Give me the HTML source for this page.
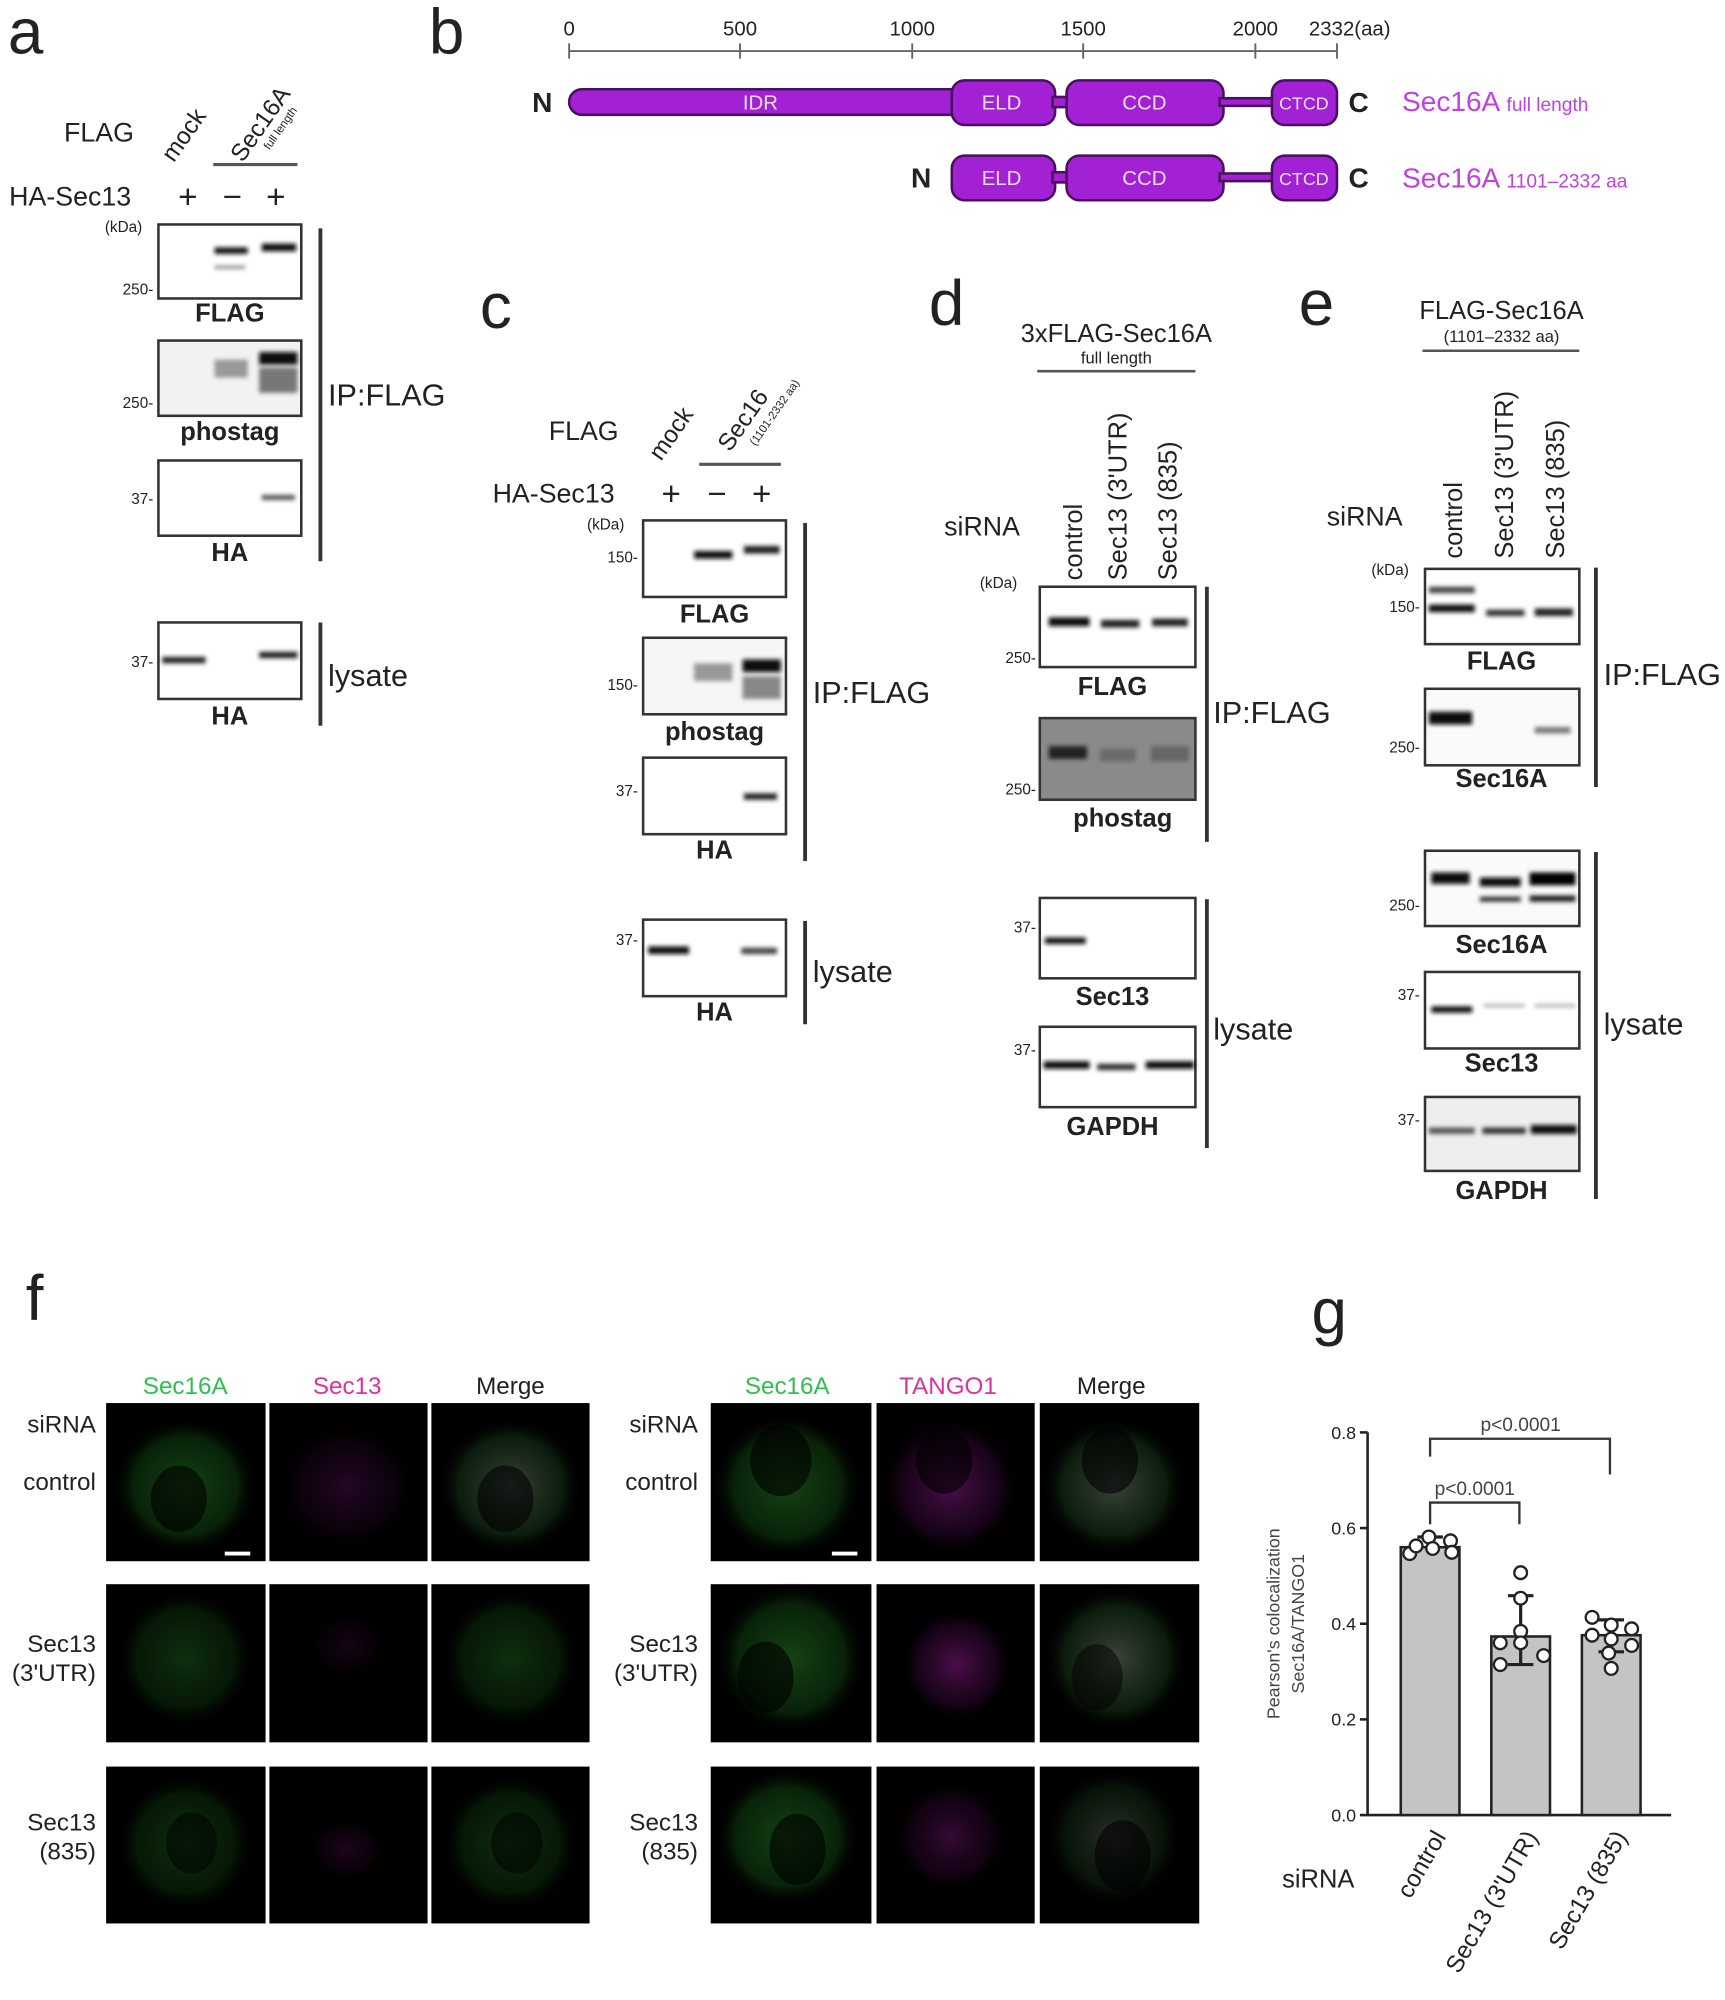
<!DOCTYPE html>
<html><head><meta charset="utf-8"><style>
html,body{margin:0;padding:0;background:#fff}
svg{display:block}
text{font-family:"Liberation Sans",Arial,sans-serif;fill:#222}
</style></head><body>
<svg width="1725" height="2000" viewBox="0 0 1352 1568" xmlns="http://www.w3.org/2000/svg">
<defs>
<filter id="bl" x="-20%" y="-200%" width="140%" height="500%"><feGaussianBlur stdDeviation="1.6"/></filter>
<radialGradient id="gc" cx="50%" cy="50%" r="50%"><stop offset="0" stop-color="#2a8a2a" stop-opacity=".9"/><stop offset=".7" stop-color="#1d6a1d" stop-opacity=".6"/><stop offset="1" stop-color="#000" stop-opacity="0"/></radialGradient>
<radialGradient id="mc" cx="50%" cy="50%" r="50%"><stop offset="0" stop-color="#9a1f9a" stop-opacity=".9"/><stop offset=".7" stop-color="#5a105a" stop-opacity=".5"/><stop offset="1" stop-color="#000" stop-opacity="0"/></radialGradient>
<radialGradient id="wc" cx="50%" cy="50%" r="50%"><stop offset="0" stop-color="#7a8a7a" stop-opacity=".9"/><stop offset=".7" stop-color="#2a5a2a" stop-opacity=".6"/><stop offset="1" stop-color="#000" stop-opacity="0"/></radialGradient>
</defs>

<!-- ===== a ===== -->
<text x="6" y="42" font-size="50">a</text>
<text x="50" y="111" font-size="21">FLAG</text>
<text transform="translate(136,128) rotate(-55)" font-size="19">mock</text>
<text transform="translate(190,128) rotate(-55)" font-size="19">Sec16A</text>
<text transform="translate(211,118) rotate(-55)" font-size="9">full length</text>
<line x1="167" y1="129" x2="233" y2="129" stroke="#555" stroke-width="2.5"/>
<text x="7" y="161" font-size="21">HA-Sec13</text>
<text x="147" y="163" font-size="26" text-anchor="middle">+</text>
<text x="182" y="163" font-size="26" text-anchor="middle">−</text>
<text x="216" y="163" font-size="26" text-anchor="middle">+</text>
<text x="82" y="182" font-size="12">(kDa)</text>
<rect x="124" y="176" width="112" height="58" fill="#fff" stroke="#333" stroke-width="2"/>
<rect x="168" y="194" width="26" height="5" fill="#111" filter="url(#bl)"/>
<rect x="205" y="191" width="27" height="6" fill="#111" filter="url(#bl)"/>
<rect x="168" y="208" width="24" height="3" fill="#999" filter="url(#bl)"/>
<text x="120" y="231" font-size="12" text-anchor="end">250-</text>
<text x="180" y="252" font-size="20" font-weight="bold" text-anchor="middle">FLAG</text>
<rect x="124" y="267" width="112" height="59" fill="#f2f2f2" stroke="#333" stroke-width="2"/>
<rect x="168" y="282" width="26" height="14" fill="#999" filter="url(#bl)"/>
<rect x="203" y="276" width="30" height="10" fill="#111" filter="url(#bl)"/>
<rect x="203" y="288" width="30" height="20" fill="#777" filter="url(#bl)"/>
<text x="120" y="320" font-size="12" text-anchor="end">250-</text>
<text x="180" y="345" font-size="20" font-weight="bold" text-anchor="middle">phostag</text>
<rect x="124" y="361" width="112" height="59" fill="#fff" stroke="#333" stroke-width="2"/>
<rect x="205" y="388" width="26" height="4" fill="#555" filter="url(#bl)"/>
<text x="120" y="395" font-size="12" text-anchor="end">37-</text>
<text x="180" y="440" font-size="20" font-weight="bold" text-anchor="middle">HA</text>
<line x1="251" y1="179" x2="251" y2="440" stroke="#333" stroke-width="3"/>
<text x="257" y="318" font-size="24">IP:FLAG</text>
<rect x="124" y="488" width="112" height="60" fill="#fff" stroke="#333" stroke-width="2"/>
<rect x="127" y="515" width="34" height="5" fill="#222" filter="url(#bl)"/>
<rect x="203" y="511" width="30" height="5" fill="#222" filter="url(#bl)"/>
<text x="120" y="523" font-size="12" text-anchor="end">37-</text>
<text x="180" y="568" font-size="20" font-weight="bold" text-anchor="middle">HA</text>
<line x1="251" y1="488" x2="251" y2="569" stroke="#333" stroke-width="3"/>
<text x="257" y="538" font-size="24">lysate</text>

<!-- ===== b ===== -->
<text x="336" y="42" font-size="50">b</text>
<line x1="446" y1="40" x2="1048" y2="40" stroke="#666" stroke-width="1.5"/>
<g stroke="#666" stroke-width="1.5">
<line x1="446" y1="34" x2="446" y2="46"/><line x1="580" y1="34" x2="580" y2="46"/><line x1="715" y1="34" x2="715" y2="46"/><line x1="849" y1="34" x2="849" y2="46"/><line x1="984" y1="34" x2="984" y2="46"/><line x1="1048" y1="34" x2="1048" y2="46"/></g>
<g font-size="16" text-anchor="middle"><text x="446" y="28">0</text><text x="580" y="28">500</text><text x="715" y="28">1000</text><text x="849" y="28">1500</text><text x="984" y="28">2000</text></g>
<text x="1026" y="28" font-size="16">2332(aa)</text>
<g fill="#a321d4" stroke="#4a1060" stroke-width="2">
<rect x="446" y="70" width="310" height="20" rx="10"/>
<rect x="746" y="63" width="81" height="35" rx="10"/>
<rect x="825" y="76" width="14" height="8"/>
<rect x="836" y="63" width="123" height="35" rx="10"/>
<rect x="956" y="77" width="44" height="6"/>
<rect x="997" y="63" width="51" height="35" rx="10"/>
<rect x="746" y="122" width="81" height="35" rx="10"/>
<rect x="825" y="135" width="14" height="8"/>
<rect x="836" y="122" width="123" height="35" rx="10"/>
<rect x="956" y="136" width="44" height="6"/>
<rect x="997" y="122" width="51" height="35" rx="10"/>
</g>
<g font-size="16" text-anchor="middle">
<text x="596" y="86" style="fill:#eedcf7">IDR</text>
<text x="785" y="86" style="fill:#eedcf7">ELD</text><text x="897" y="86" style="fill:#eedcf7">CCD</text><text x="1022" y="86" style="fill:#eedcf7" font-size="14">CTCD</text>
<text x="785" y="145" style="fill:#eedcf7">ELD</text><text x="897" y="145" style="fill:#eedcf7">CCD</text><text x="1022" y="145" style="fill:#eedcf7" font-size="14">CTCD</text>
</g>
<text x="417" y="88" font-size="22" font-weight="bold">N</text>
<text x="1057" y="88" font-size="22" font-weight="bold">C</text>
<text x="714" y="147" font-size="22" font-weight="bold">N</text>
<text x="1057" y="147" font-size="22" font-weight="bold">C</text>
<text x="1099" y="87" font-size="22" style="fill:#c040e0">Sec16A <tspan font-size="15">full length</tspan></text>
<text x="1099" y="147" font-size="22" style="fill:#c040e0">Sec16A <tspan font-size="15">1101–2332 aa</tspan></text>

<!-- ===== c ===== -->
<text x="376" y="257" font-size="50">c</text>
<text x="430" y="345" font-size="21">FLAG</text>
<text transform="translate(518,362) rotate(-55)" font-size="19">mock</text>
<text transform="translate(572,355) rotate(-55)" font-size="19">Sec16</text>
<text transform="translate(592,350) rotate(-55)" font-size="9">(1101-2332 aa)</text>
<line x1="548" y1="364" x2="612" y2="364" stroke="#555" stroke-width="2.5"/>
<text x="386" y="394" font-size="21">HA-Sec13</text>
<text x="526" y="396" font-size="26" text-anchor="middle">+</text>
<text x="562" y="396" font-size="26" text-anchor="middle">−</text>
<text x="597" y="396" font-size="26" text-anchor="middle">+</text>
<text x="460" y="415" font-size="12">(kDa)</text>
<rect x="504" y="408" width="112" height="60" fill="#fff" stroke="#333" stroke-width="2"/>
<rect x="544" y="432" width="30" height="6" fill="#111" filter="url(#bl)"/>
<rect x="583" y="428" width="28" height="6" fill="#222" filter="url(#bl)"/>
<text x="500" y="441" font-size="12" text-anchor="end">150-</text>
<text x="560" y="488" font-size="20" font-weight="bold" text-anchor="middle">FLAG</text>
<rect x="504" y="500" width="112" height="60" fill="#f6f6f6" stroke="#333" stroke-width="2"/>
<rect x="544" y="520" width="30" height="14" fill="#999" filter="url(#bl)"/>
<rect x="582" y="517" width="30" height="10" fill="#111" filter="url(#bl)"/>
<rect x="582" y="530" width="30" height="18" fill="#888" filter="url(#bl)"/>
<text x="500" y="541" font-size="12" text-anchor="end">150-</text>
<text x="560" y="580" font-size="20" font-weight="bold" text-anchor="middle">phostag</text>
<rect x="504" y="594" width="112" height="60" fill="#fff" stroke="#333" stroke-width="2"/>
<rect x="583" y="622" width="26" height="5" fill="#222" filter="url(#bl)"/>
<text x="500" y="624" font-size="12" text-anchor="end">37-</text>
<text x="560" y="673" font-size="20" font-weight="bold" text-anchor="middle">HA</text>
<line x1="631" y1="410" x2="631" y2="675" stroke="#333" stroke-width="3"/>
<text x="637" y="551" font-size="24">IP:FLAG</text>
<rect x="504" y="721" width="112" height="60" fill="#fff" stroke="#333" stroke-width="2"/>
<rect x="508" y="742" width="32" height="6" fill="#111" filter="url(#bl)"/>
<rect x="581" y="743" width="28" height="5" fill="#444" filter="url(#bl)"/>
<text x="500" y="741" font-size="12" text-anchor="end">37-</text>
<text x="560" y="800" font-size="20" font-weight="bold" text-anchor="middle">HA</text>
<line x1="631" y1="722" x2="631" y2="803" stroke="#333" stroke-width="3"/>
<text x="637" y="770" font-size="24">lysate</text>

<!-- ===== d ===== -->
<text x="728" y="255" font-size="50">d</text>
<text x="875" y="268" font-size="20" text-anchor="middle">3xFLAG-Sec16A</text>
<text x="875" y="285" font-size="13" text-anchor="middle">full length</text>
<line x1="813" y1="291" x2="937" y2="291" stroke="#555" stroke-width="2"/>
<text x="740" y="420" font-size="21">siRNA</text>
<text transform="translate(848,455) rotate(-90)" font-size="20">control</text>
<text transform="translate(883,455) rotate(-90)" font-size="20">Sec13 (3'UTR)</text>
<text transform="translate(922,455) rotate(-90)" font-size="20">Sec13 (835)</text>
<text x="768" y="461" font-size="12">(kDa)</text>
<rect x="815" y="460" width="122" height="63" fill="#fff" stroke="#333" stroke-width="2"/>
<rect x="822" y="484" width="32" height="7" fill="#111" filter="url(#bl)"/>
<rect x="863" y="486" width="30" height="6" fill="#222" filter="url(#bl)"/>
<rect x="903" y="485" width="28" height="6" fill="#222" filter="url(#bl)"/>
<text x="812" y="520" font-size="12" text-anchor="end">250-</text>
<text x="872" y="545" font-size="20" font-weight="bold" text-anchor="middle">FLAG</text>
<rect x="815" y="563" width="122" height="64" fill="#8a8a8a" stroke="#333" stroke-width="2"/>
<rect x="822" y="585" width="30" height="10" fill="#222" filter="url(#bl)"/>
<rect x="862" y="587" width="28" height="10" fill="#6a6a6a" filter="url(#bl)"/>
<rect x="902" y="585" width="30" height="12" fill="#666" filter="url(#bl)"/>
<text x="812" y="623" font-size="12" text-anchor="end">250-</text>
<text x="880" y="648" font-size="20" font-weight="bold" text-anchor="middle">phostag</text>
<line x1="946" y1="460" x2="946" y2="660" stroke="#333" stroke-width="3"/>
<text x="951" y="567" font-size="24">IP:FLAG</text>
<rect x="815" y="704" width="122" height="63" fill="#fff" stroke="#333" stroke-width="2"/>
<rect x="819" y="735" width="32" height="5" fill="#111" filter="url(#bl)"/>
<text x="812" y="731" font-size="12" text-anchor="end">37-</text>
<text x="872" y="788" font-size="20" font-weight="bold" text-anchor="middle">Sec13</text>
<rect x="815" y="805" width="122" height="63" fill="#fff" stroke="#333" stroke-width="2"/>
<rect x="818" y="832" width="36" height="6" fill="#111" filter="url(#bl)"/>
<rect x="860" y="834" width="30" height="5" fill="#333" filter="url(#bl)"/>
<rect x="898" y="832" width="38" height="6" fill="#111" filter="url(#bl)"/>
<text x="812" y="827" font-size="12" text-anchor="end">37-</text>
<text x="872" y="890" font-size="20" font-weight="bold" text-anchor="middle">GAPDH</text>
<line x1="946" y1="705" x2="946" y2="900" stroke="#333" stroke-width="3"/>
<text x="951" y="815" font-size="24">lysate</text>

<!-- ===== e ===== -->
<text x="1018" y="255" font-size="50">e</text>
<text x="1177" y="250" font-size="20" text-anchor="middle">FLAG-Sec16A</text>
<text x="1177" y="268" font-size="13" text-anchor="middle">(1101–2332 aa)</text>
<line x1="1115" y1="275" x2="1238" y2="275" stroke="#555" stroke-width="2"/>
<text x="1040" y="412" font-size="21">siRNA</text>
<text transform="translate(1146,438) rotate(-90)" font-size="20">control</text>
<text transform="translate(1186,438) rotate(-90)" font-size="20">Sec13 (3'UTR)</text>
<text transform="translate(1226,438) rotate(-90)" font-size="20">Sec13 (835)</text>
<text x="1075" y="451" font-size="12">(kDa)</text>
<rect x="1117" y="446" width="121" height="59" fill="#fff" stroke="#333" stroke-width="2"/>
<rect x="1120" y="460" width="36" height="5" fill="#444" filter="url(#bl)"/>
<rect x="1120" y="474" width="36" height="6" fill="#111" filter="url(#bl)"/>
<rect x="1165" y="478" width="30" height="5" fill="#333" filter="url(#bl)"/>
<rect x="1203" y="477" width="30" height="6" fill="#222" filter="url(#bl)"/>
<text x="1113" y="480" font-size="12" text-anchor="end">150-</text>
<text x="1177" y="525" font-size="20" font-weight="bold" text-anchor="middle">FLAG</text>
<rect x="1117" y="540" width="121" height="60" fill="#fafafa" stroke="#333" stroke-width="2"/>
<rect x="1120" y="558" width="34" height="10" fill="#111" filter="url(#bl)"/>
<rect x="1203" y="570" width="28" height="5" fill="#777" filter="url(#bl)"/>
<text x="1113" y="590" font-size="12" text-anchor="end">250-</text>
<text x="1177" y="617" font-size="20" font-weight="bold" text-anchor="middle">Sec16A</text>
<line x1="1251" y1="445" x2="1251" y2="617" stroke="#333" stroke-width="3"/>
<text x="1257" y="537" font-size="24">IP:FLAG</text>
<rect x="1117" y="667" width="121" height="59" fill="#fafafa" stroke="#333" stroke-width="2"/>
<rect x="1122" y="684" width="30" height="9" fill="#111" filter="url(#bl)"/>
<rect x="1160" y="688" width="32" height="7" fill="#111" filter="url(#bl)"/>
<rect x="1160" y="703" width="32" height="4" fill="#333" filter="url(#bl)"/>
<rect x="1199" y="684" width="36" height="10" fill="#000" filter="url(#bl)"/>
<rect x="1199" y="702" width="36" height="5" fill="#222" filter="url(#bl)"/>
<text x="1113" y="714" font-size="12" text-anchor="end">250-</text>
<text x="1177" y="747" font-size="20" font-weight="bold" text-anchor="middle">Sec16A</text>
<rect x="1117" y="762" width="121" height="60" fill="#fff" stroke="#333" stroke-width="2"/>
<rect x="1122" y="789" width="32" height="5" fill="#111" filter="url(#bl)"/>
<rect x="1163" y="787" width="32" height="3" fill="#bbb" filter="url(#bl)"/>
<rect x="1203" y="787" width="32" height="3" fill="#bbb" filter="url(#bl)"/>
<text x="1113" y="784" font-size="12" text-anchor="end">37-</text>
<text x="1177" y="840" font-size="20" font-weight="bold" text-anchor="middle">Sec13</text>
<rect x="1117" y="860" width="121" height="58" fill="#eee" stroke="#333" stroke-width="2"/>
<rect x="1120" y="884" width="36" height="5" fill="#555" filter="url(#bl)"/>
<rect x="1162" y="884" width="34" height="5" fill="#333" filter="url(#bl)"/>
<rect x="1200" y="882" width="36" height="7" fill="#111" filter="url(#bl)"/>
<text x="1113" y="882" font-size="12" text-anchor="end">37-</text>
<text x="1177" y="940" font-size="20" font-weight="bold" text-anchor="middle">GAPDH</text>
<line x1="1251" y1="668" x2="1251" y2="940" stroke="#333" stroke-width="3"/>
<text x="1257" y="811" font-size="24">lysate</text>

<!-- ===== f ===== -->
<text x="20" y="1035" font-size="50">f</text>
<g font-size="19" text-anchor="middle">
<text x="145" y="1093" style="fill:#2fbf50">Sec16A</text><text x="272" y="1093" style="fill:#e0309a">Sec13</text><text x="400" y="1093">Merge</text>
<text x="617" y="1093" style="fill:#2fbf50">Sec16A</text><text x="743" y="1093" style="fill:#e0309a">TANGO1</text><text x="871" y="1093">Merge</text>
</g>
<g font-size="19" text-anchor="end">
<text x="75" y="1123">siRNA</text><text x="75" y="1168">control</text>
<text x="75" y="1295">Sec13</text><text x="75" y="1318">(3'UTR)</text>
<text x="75" y="1435">Sec13</text><text x="75" y="1458">(835)</text>
<text x="547" y="1123">siRNA</text><text x="547" y="1168">control</text>
<text x="547" y="1295">Sec13</text><text x="547" y="1318">(3'UTR)</text>
<text x="547" y="1435">Sec13</text><text x="547" y="1458">(835)</text>
</g>
<g>
<rect x="83" y="1100" width="125" height="124" fill="#000"/><rect x="211" y="1100" width="124" height="124" fill="#000"/><rect x="338" y="1100" width="124" height="124" fill="#000"/>
<rect x="83" y="1242" width="125" height="124" fill="#000"/><rect x="211" y="1242" width="124" height="124" fill="#000"/><rect x="338" y="1242" width="124" height="124" fill="#000"/>
<rect x="83" y="1385" width="125" height="123" fill="#000"/><rect x="211" y="1385" width="124" height="123" fill="#000"/><rect x="338" y="1385" width="124" height="123" fill="#000"/>
<rect x="557" y="1100" width="126" height="124" fill="#000"/><rect x="687" y="1100" width="124" height="124" fill="#000"/><rect x="815" y="1100" width="125" height="124" fill="#000"/>
<rect x="557" y="1242" width="126" height="124" fill="#000"/><rect x="687" y="1242" width="124" height="124" fill="#000"/><rect x="815" y="1242" width="125" height="124" fill="#000"/>
<rect x="557" y="1385" width="126" height="123" fill="#000"/><rect x="687" y="1385" width="124" height="123" fill="#000"/><rect x="815" y="1385" width="125" height="123" fill="#000"/>
</g>
<g opacity=".55">
<ellipse cx="145" cy="1165" rx="58" ry="55" fill="url(#gc)"/><ellipse cx="140" cy="1175" rx="22" ry="26" fill="#000" opacity=".6"/>
<ellipse cx="272" cy="1165" rx="55" ry="50" fill="url(#mc)" opacity=".5"/>
<ellipse cx="400" cy="1165" rx="58" ry="55" fill="url(#wc)"/><ellipse cx="396" cy="1175" rx="22" ry="26" fill="#000" opacity=".6"/>
<ellipse cx="145" cy="1300" rx="55" ry="55" fill="url(#gc)" opacity=".7"/>
<ellipse cx="400" cy="1300" rx="55" ry="55" fill="url(#gc)" opacity=".7"/>
<ellipse cx="272" cy="1290" rx="30" ry="25" fill="url(#mc)" opacity=".3"/>
<ellipse cx="145" cy="1445" rx="55" ry="55" fill="url(#gc)" opacity=".7"/><ellipse cx="150" cy="1445" rx="20" ry="24" fill="#000" opacity=".5"/>
<ellipse cx="400" cy="1445" rx="55" ry="55" fill="url(#gc)" opacity=".7"/><ellipse cx="405" cy="1445" rx="20" ry="24" fill="#000" opacity=".5"/>
<ellipse cx="272" cy="1450" rx="30" ry="25" fill="url(#mc)" opacity=".4"/>
<ellipse cx="617" cy="1165" rx="60" ry="58" fill="url(#gc)"/><ellipse cx="612" cy="1145" rx="24" ry="28" fill="#000" opacity=".6"/>
<ellipse cx="745" cy="1165" rx="55" ry="55" fill="url(#mc)"/><ellipse cx="740" cy="1145" rx="22" ry="26" fill="#000" opacity=".6"/>
<ellipse cx="873" cy="1165" rx="58" ry="55" fill="url(#wc)"/><ellipse cx="870" cy="1145" rx="22" ry="26" fill="#000" opacity=".6"/>
<ellipse cx="620" cy="1300" rx="60" ry="60" fill="url(#gc)"/><ellipse cx="600" cy="1315" rx="22" ry="28" fill="#000" opacity=".6"/>
<ellipse cx="750" cy="1305" rx="45" ry="45" fill="url(#mc)"/>
<ellipse cx="875" cy="1300" rx="58" ry="58" fill="url(#wc)"/><ellipse cx="860" cy="1315" rx="20" ry="26" fill="#000" opacity=".5"/>
<ellipse cx="617" cy="1440" rx="58" ry="55" fill="url(#gc)"/><ellipse cx="625" cy="1450" rx="22" ry="28" fill="#000" opacity=".6"/>
<ellipse cx="745" cy="1440" rx="45" ry="45" fill="url(#mc)" opacity=".7"/>
<ellipse cx="873" cy="1440" rx="55" ry="55" fill="url(#wc)" opacity=".7"/><ellipse cx="880" cy="1455" rx="22" ry="28" fill="#000" opacity=".6"/>
</g>
<line x1="176" y1="1218" x2="196" y2="1218" stroke="#fff" stroke-width="3"/>
<line x1="652" y1="1218" x2="672" y2="1218" stroke="#fff" stroke-width="3"/>

<!-- ===== g ===== -->
<text x="1028" y="1045" font-size="50">g</text>
<g stroke="#222" stroke-width="2" fill="none">
<line x1="1072" y1="1123" x2="1072" y2="1423"/>
<line x1="1066" y1="1423" x2="1310" y2="1423"/>
<line x1="1066" y1="1123" x2="1072" y2="1123"/><line x1="1066" y1="1198" x2="1072" y2="1198"/><line x1="1066" y1="1273" x2="1072" y2="1273"/><line x1="1066" y1="1348" x2="1072" y2="1348"/>
</g>
<g font-size="14" text-anchor="end" style="fill:#444"><text x="1063" y="1128">0.8</text><text x="1063" y="1203">0.6</text><text x="1063" y="1278">0.4</text><text x="1063" y="1353">0.2</text><text x="1063" y="1428">0.0</text></g>
<g fill="#c4c4c4" stroke="#222" stroke-width="2">
<rect x="1098" y="1213" width="46" height="210"/>
<rect x="1169" y="1283" width="46" height="140"/>
<rect x="1240" y="1282" width="46" height="141"/>
</g>
<g stroke="#222" stroke-width="2.5" fill="none">
<line x1="1121" y1="1205" x2="1121" y2="1213"/><line x1="1111" y1="1205" x2="1131" y2="1205"/>
<line x1="1192" y1="1251" x2="1192" y2="1305"/><line x1="1182" y1="1251" x2="1202" y2="1251"/><line x1="1182" y1="1305" x2="1202" y2="1305"/>
<line x1="1263" y1="1270" x2="1263" y2="1295"/><line x1="1253" y1="1270" x2="1273" y2="1270"/><line x1="1253" y1="1295" x2="1273" y2="1295"/>
</g>
<g fill="#fff" stroke="#222" stroke-width="1.8">
<circle cx="1105" cy="1218" r="5"/><circle cx="1120" cy="1205" r="5"/><circle cx="1137" cy="1208" r="5"/><circle cx="1138" cy="1217" r="5"/><circle cx="1110" cy="1212" r="5"/><circle cx="1123" cy="1214" r="5"/>
<circle cx="1192" cy="1233" r="5"/><circle cx="1192" cy="1253" r="5"/><circle cx="1192" cy="1279" r="5"/><circle cx="1176" cy="1288" r="5"/><circle cx="1192" cy="1288" r="5"/><circle cx="1210" cy="1298" r="5"/><circle cx="1176" cy="1305" r="5"/>
<circle cx="1248" cy="1268" r="5"/><circle cx="1263" cy="1274" r="5"/><circle cx="1279" cy="1277" r="5"/><circle cx="1248" cy="1282" r="5"/><circle cx="1263" cy="1285" r="5"/><circle cx="1279" cy="1290" r="5"/><circle cx="1261" cy="1296" r="5"/><circle cx="1263" cy="1308" r="5"/>
</g>
<g stroke="#333" stroke-width="1.8" fill="none">
<polyline points="1121,1195 1121,1178 1191,1178 1191,1195"/>
<polyline points="1121,1142 1121,1128 1262,1128 1262,1156"/>
</g>
<text x="1156" y="1172" font-size="15" text-anchor="middle" style="fill:#444">p&lt;0.0001</text>
<text x="1192" y="1122" font-size="15" text-anchor="middle" style="fill:#444">p&lt;0.0001</text>
<text transform="translate(1003,1273) rotate(-90)" font-size="14" text-anchor="middle" style="fill:#444">Pearson's colocalization</text>
<text transform="translate(1022,1273) rotate(-90)" font-size="14" text-anchor="middle" style="fill:#444">Sec16A/TANGO1</text>
<text x="1005" y="1480" font-size="20">siRNA</text>
<g font-size="19" text-anchor="end" style="fill:#333">
<text transform="translate(1134,1440) rotate(-60)">control</text>
<text transform="translate(1206,1440) rotate(-60)">Sec13 (3'UTR)</text>
<text transform="translate(1276,1440) rotate(-60)">Sec13 (835)</text>
</g>
</svg>
</body></html>
